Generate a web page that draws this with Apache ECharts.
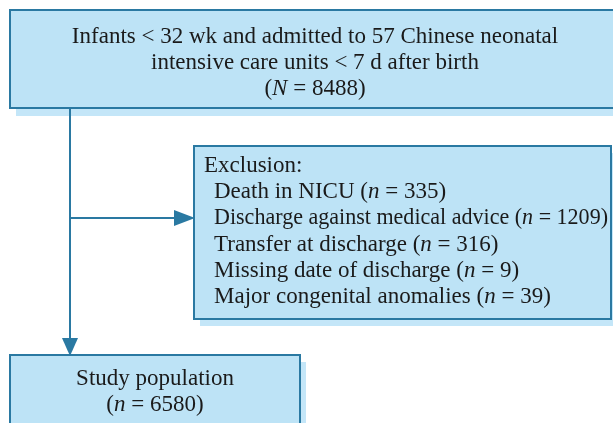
<!DOCTYPE html>
<html>
<head>
<meta charset="utf-8">
<script src="https://cdn.jsdelivr.net/npm/echarts@6/dist/echarts.min.js"></script>
<style>
  html, body { margin: 0; padding: 0; background: #fff; }
  #main { width: 613px; height: 423px; }
</style>
</head>
<body>
<div id="main"></div>
<script>
// flow chart content
var topLines = ["Infants < 32 wk and admitted to 57 Chinese neonatal", "intensive care units < 7 d after birth"];
var totalN = [8488];
var exclusionTitle = ["Exclusion:"];
var exclusionLabels = ["Death in NICU", "Discharge against medical advice", "Transfer at discharge", "Missing date of discharge", "Major congenital anomalies"];
var exclusionCounts = [335, 1209, 316, 9, 39];
var studyLabel = ["Study population"];
var studyN = [6580];

var FILL = "#bde3f6", EDGE = "#2a79a2", SHADE = "#c4e6f8", INK = "#1a1a1a";
var FONT = "Liberation Serif", SIZE = 23;

var ctx = document.createElement("canvas").getContext("2d");
ctx.font = SIZE + "px '" + FONT + "'";
function widthOf(s) { return ctx.measureText(s).width; }

function boxes(x, y, w, h, dx, dy) {
    return [{
        type: "rect", shape: { x: x + dx, y: y + dy, width: w, height: h },
        style: { fill: SHADE }, z: 1
    }, {
        type: "rect", shape: { x: x, y: y, width: w, height: h },
        style: { fill: FILL, stroke: EDGE, lineWidth: 2 }, z: 2
    }];
}

// plain: string used to measure; maxW: squeeze line to fit
function txt(x, y, s, align, plain, maxW) {
    var sx = 1;
    if (plain && maxW) sx = Math.min(1, maxW / widthOf(plain));
    return {
        type: "text", x: x, y: y, z: 5, scaleX: sx,
        style: {
            text: s, textAlign: align || "left", textVerticalAlign: "middle",
            fill: INK, font: SIZE + "px '" + FONT + "'",
            rich: {
                r: { fontFamily: FONT, fontSize: SIZE, fill: INK },
                i: { fontFamily: FONT, fontSize: SIZE, fontStyle: "italic", fill: INK }
            }
        }
    };
}

function cnt(sym, v) {
    return "{r|(}{i|" + sym + "}{r| = " + v + ")}";
}

var els = [];
els = els.concat(boxes(10, 10, 640, 98, 6, 8));
els = els.concat(boxes(194, 146, 417, 173, 6, 7));
els = els.concat(boxes(10, 355, 290, 100, 6, 7));

// connectors
els.push({ type: "line", shape: { x1: 70, y1: 109, x2: 70, y2: 340 }, style: { stroke: EDGE, lineWidth: 2 }, z: 3 });
els.push({ type: "line", shape: { x1: 70, y1: 218, x2: 176, y2: 218 }, style: { stroke: EDGE, lineWidth: 2 }, z: 3 });
els.push({ type: "polygon", shape: { points: [[62, 338], [78, 338], [70, 356]] }, style: { fill: EDGE }, z: 3 });
els.push({ type: "polygon", shape: { points: [[174, 210], [174, 226], [195, 218]] }, style: { fill: EDGE }, z: 3 });

// top box text
topLines.forEach(function (s, k) {
    els.push(txt(315, 37 + k * 26, "{r|" + s + "}", "center"));
});
els.push(txt(315, 89, cnt("N", totalN[0]), "center"));

// exclusion text
els.push(txt(204, 166, "{r|" + exclusionTitle[0] + "}"));
exclusionLabels.forEach(function (s, k) {
    var plain = s + " (n = " + exclusionCounts[k] + ")";
    els.push(txt(214, 192 + k * 26.3, "{r|" + s + " }" + cnt("n", exclusionCounts[k]), "left", plain, 394));
});

// study box text
els.push(txt(155, 379, "{r|" + studyLabel[0] + "}", "center"));
els.push(txt(155, 405, cnt("n", studyN[0]), "center"));

var chart = echarts.init(document.getElementById("main"));
chart.setOption({ animation: false, graphic: { elements: els } });
</script>
</body>
</html>
